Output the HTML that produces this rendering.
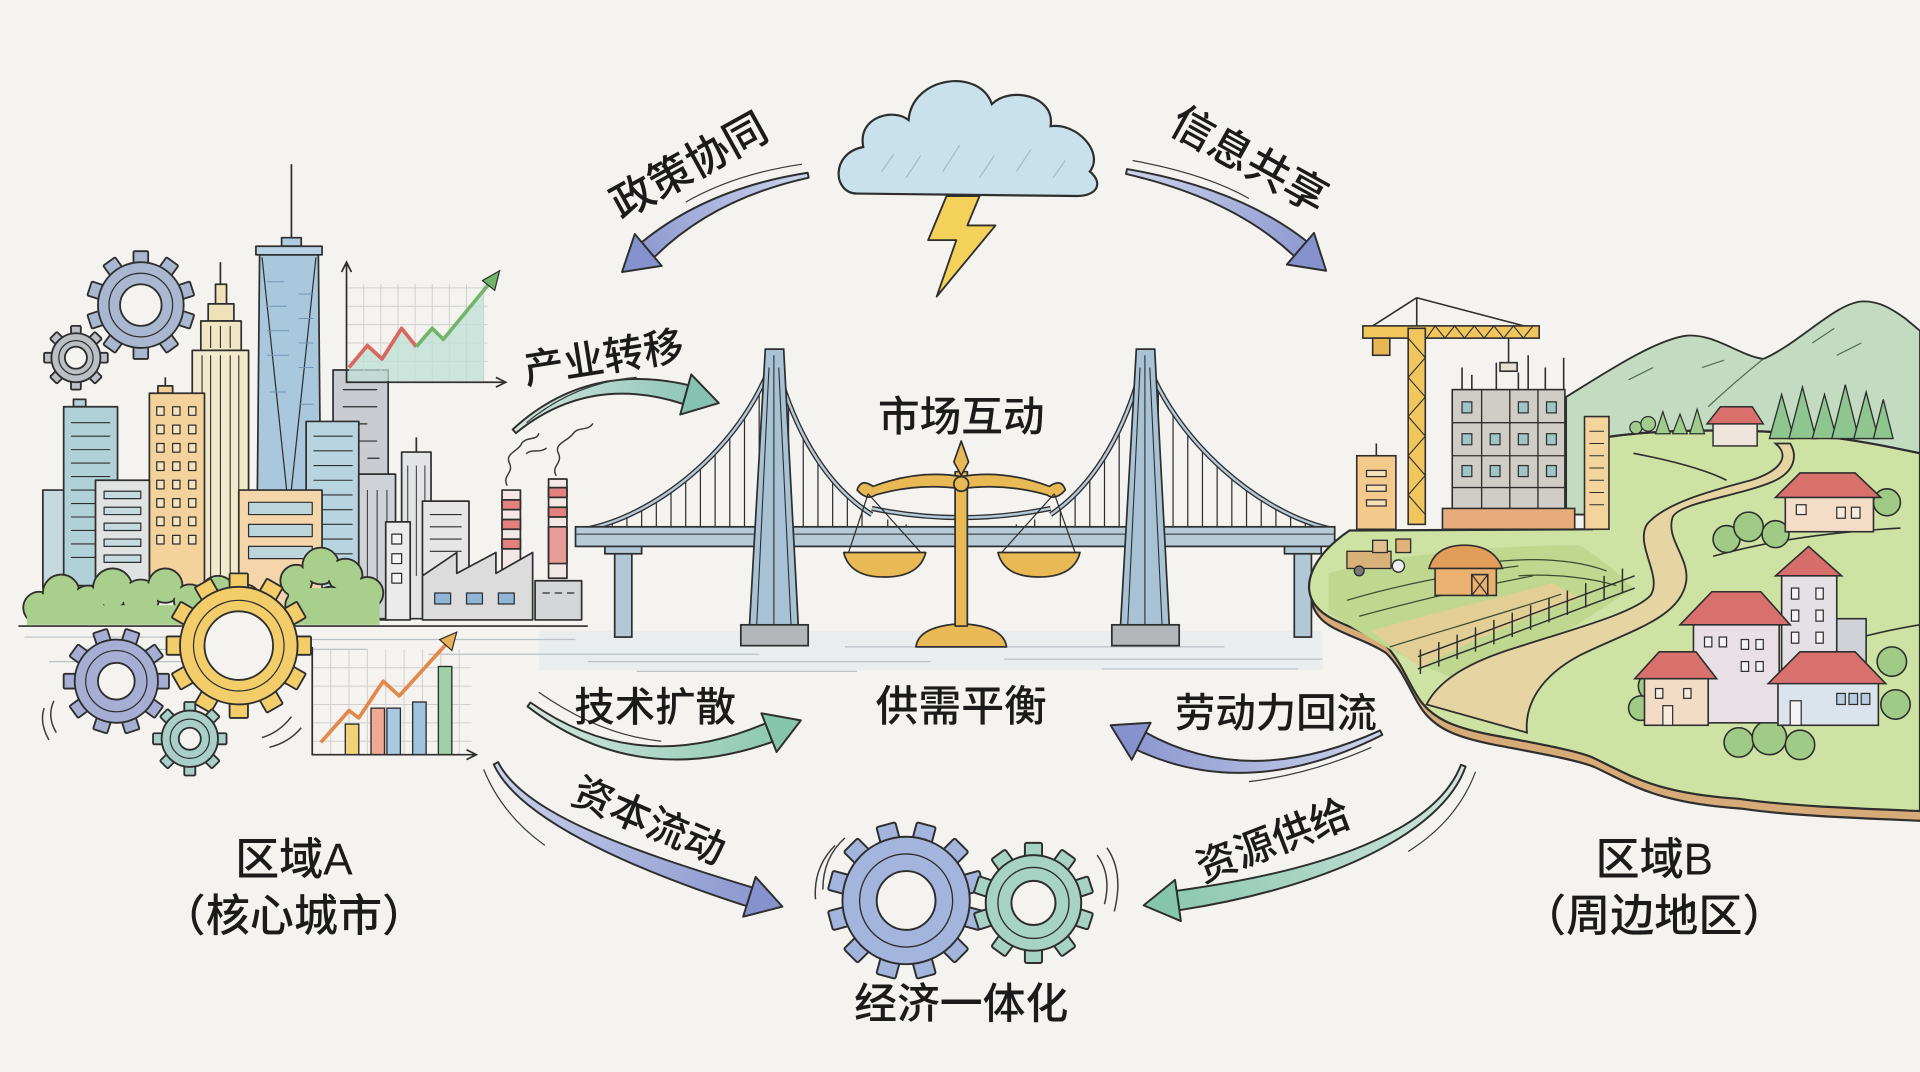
<!DOCTYPE html>
<html><head><meta charset="utf-8">
<style>
html,body{margin:0;padding:0;background:#f4f3ef;overflow:hidden;}
svg{display:block;}
text{font-family:"Liberation Sans","Noto Sans CJK SC",sans-serif;fill:#1b1b1b;font-weight:500;}
</style></head><body>
<svg width="1920" height="1072" viewBox="0 0 1568 875" preserveAspectRatio="none" xmlns="http://www.w3.org/2000/svg">
<defs>
<linearGradient id="gA1" gradientUnits="userSpaceOnUse" x1="660" y1="145" x2="510" y2="222"><stop offset="0" stop-color="#cdd3ec"/><stop offset="1" stop-color="#8592cd"/></linearGradient>
<linearGradient id="gA2" gradientUnits="userSpaceOnUse" x1="920" y1="140" x2="1082" y2="224"><stop offset="0" stop-color="#cdd3ec"/><stop offset="1" stop-color="#8592cd"/></linearGradient>
<linearGradient id="gA3" gradientUnits="userSpaceOnUse" x1="420" y1="352" x2="588" y2="330"><stop offset="0" stop-color="#d3e6e0"/><stop offset="1" stop-color="#86c2b0"/></linearGradient>
<linearGradient id="gA4" gradientUnits="userSpaceOnUse" x1="432" y1="575" x2="655" y2="588"><stop offset="0" stop-color="#d3e6e0"/><stop offset="1" stop-color="#86c6ae"/></linearGradient>
<linearGradient id="gA5" gradientUnits="userSpaceOnUse" x1="1128" y1="598" x2="907" y2="592"><stop offset="0" stop-color="#cdd3ec"/><stop offset="1" stop-color="#8592cd"/></linearGradient>
<linearGradient id="gA6" gradientUnits="userSpaceOnUse" x1="405" y1="623" x2="639" y2="740"><stop offset="0" stop-color="#cdd3ec"/><stop offset="1" stop-color="#8592cd"/></linearGradient>
<linearGradient id="gA7" gradientUnits="userSpaceOnUse" x1="1195" y1="625" x2="934" y2="739"><stop offset="0" stop-color="#d3e6e0"/><stop offset="1" stop-color="#86c6ae"/></linearGradient>
<clipPath id="c1"><path d="M478 432 C540 420 610 360 632 290 L632 432 Z"/></clipPath>
<clipPath id="c2"><path d="M632 290 C650 360 680 400 712 420 L712 432 L632 432 Z"/></clipPath>
<clipPath id="c3"><path d="M935 290 C918 360 888 400 858 420 L858 432 L935 432 Z"/></clipPath>
<clipPath id="c4"><path d="M935 290 C958 360 1030 420 1088 432 L935 432 Z"/></clipPath>
<rect id="t1" x="-6" y="-44" width="12" height="12" rx="1"/>
<rect id="t2" x="-4" y="-26" width="8" height="9" rx="1"/>
<rect id="t3" x="-7.5" y="-59" width="15" height="14" rx="1"/>
<rect id="t4" x="-6" y="-43" width="12" height="12" rx="1"/>
<rect id="t5" x="-4.5" y="-30" width="9" height="10" rx="1"/>
<rect id="t6" x="-8" y="-64" width="16" height="15" rx="1.5"/>
<rect id="t7" x="-7" y="-49" width="14" height="13" rx="1.5"/>
</defs>
<rect width="1568" height="875" fill="#f4f3ef"/>

<!-- water / ground sketch lines -->
<rect x="440" y="515" width="640" height="32" fill="#e3eaed" opacity="0.6"/>
<g stroke="#b9c2c8" stroke-width="1" fill="none">
<path d="M20 520 H180 M230 522 H470 M60 530 H300 M350 534 H620 M480 540 H760 M690 528 H1000 M820 538 H1080 M40 540 H160 M900 546 H1060 M520 548 H700"/>
</g>

<!-- ================= CITY ================= -->
<g stroke="#2e2e2e" stroke-width="1.4" stroke-linejoin="round">
<rect x="272" y="302" width="45" height="204" fill="#c9ccd1"/>
<path d="M280 318h28M280 332h28M280 346h20M280 360h28M300 374h10" fill="none" stroke-width="1"/>
<rect x="35" y="400" width="18" height="80" fill="#c6d9de"/>
<line x1="238" y1="134" x2="238" y2="197"/>
<rect x="230" y="194" width="16" height="7" fill="#aecbe0"/>
<polygon points="212,208 260,208 262,420 210,420" fill="#a9c7dd"/>
<rect x="209" y="201" width="54" height="7" fill="#b7d2e5"/>
<path d="M214 210 L236 418 L258 210" fill="none" stroke-width="1"/>
<path d="M218 230h14M218 250h16M218 270h18M218 290h18M244 240h12M244 260h12M244 280h12M244 300h12M220 320h14M244 330h12" stroke="#6f97b5" stroke-width="0.8" fill="none"/>
<line x1="180" y1="214" x2="180" y2="232"/>
<rect x="176" y="232" width="9" height="16" fill="#efe2b8"/>
<rect x="170" y="248" width="21" height="14" fill="#efe2b8"/>
<rect x="164" y="262" width="33" height="24" fill="#f1e6c4"/>
<rect x="157" y="286" width="46" height="192" fill="#f3e9cc"/>
<path d="M165 290V476M172 290V476M180 290V476M188 290V476M195 290V476M172 266V284M180 266V284M188 266V284" fill="none" stroke-width="0.9"/>
<rect x="60" y="326" width="10" height="6" fill="#b3d3d8"/>
<rect x="52" y="332" width="44" height="146" fill="#b1d1d9"/>
<path d="M58 345h32M58 356h32M58 367h32M58 378h32M58 389h32M58 400h32M58 411h32M58 422h32M58 433h32M58 444h32M58 455h32" fill="none" stroke-width="0.9"/>
<line x1="135" y1="308" x2="135" y2="316"/>
<rect x="129" y="315" width="12" height="6" fill="#f3cf97"/>
<rect x="122" y="321" width="45" height="157" fill="#f4d29c"/>
<g fill="#f7e3bf" stroke-width="1">
<rect x="128" y="332" width="6" height="7"/><rect x="141" y="332" width="6" height="7"/><rect x="154" y="332" width="6" height="7"/>
<rect x="128" y="347" width="6" height="7"/><rect x="141" y="347" width="6" height="7"/><rect x="154" y="347" width="6" height="7"/>
<rect x="128" y="362" width="6" height="7"/><rect x="141" y="362" width="6" height="7"/><rect x="154" y="362" width="6" height="7"/>
<rect x="128" y="377" width="6" height="7"/><rect x="141" y="377" width="6" height="7"/><rect x="154" y="377" width="6" height="7"/>
<rect x="128" y="392" width="6" height="7"/><rect x="141" y="392" width="6" height="7"/><rect x="154" y="392" width="6" height="7"/>
<rect x="128" y="407" width="6" height="7"/><rect x="141" y="407" width="6" height="7"/><rect x="154" y="407" width="6" height="7"/>
<rect x="128" y="422" width="6" height="7"/><rect x="141" y="422" width="6" height="7"/><rect x="154" y="422" width="6" height="7"/>
<rect x="128" y="437" width="6" height="7"/><rect x="141" y="437" width="6" height="7"/><rect x="154" y="437" width="6" height="7"/>
</g>
<rect x="78" y="392" width="44" height="86" fill="#e1e3e3"/>
<g fill="#c5dbe0" stroke-width="1">
<rect x="85" y="401" width="30" height="6"/><rect x="85" y="414" width="30" height="6"/><rect x="85" y="427" width="30" height="6"/><rect x="85" y="440" width="30" height="6"/><rect x="85" y="453" width="30" height="6"/>
</g>
<rect x="250" y="344" width="43" height="160" fill="#b9d4e1"/>
<path d="M256 356h32M256 368h32M256 380h32M256 392h32M256 404h32M256 416h32M256 428h32M256 440h32M256 452h32" fill="none" stroke-width="0.9"/>
<rect x="195" y="400" width="68" height="104" fill="#f4d6aa"/>
<g fill="#bcd6dc" stroke-width="1"><rect x="203" y="410" width="52" height="10"/><rect x="203" y="428" width="52" height="10"/><rect x="203" y="446" width="52" height="10"/></g>
<rect x="293" y="387" width="30" height="118" fill="#cfd2d6"/>
<path d="M300 400V495M308 400V495M316 400V495" fill="none" stroke-width="0.8"/>
<line x1="340" y1="357" x2="340" y2="369"/>
<rect x="328" y="369" width="24" height="136" fill="#e3e4e6"/>
<path d="M333 380V470M340 380V470M347 380V470" fill="none" stroke-width="0.8"/>
<rect x="315" y="426" width="20" height="80" fill="#ebebeb"/>
<g fill="#f4f4f4" stroke-width="1"><rect x="320" y="436" width="8" height="8"/><rect x="320" y="452" width="8" height="8"/><rect x="320" y="468" width="8" height="8"/></g>
<rect x="345" y="409" width="38" height="60" fill="#e6e6e6"/>
<path d="M351 420h26M351 430h26M351 440h26M351 450h26" fill="none" stroke-width="0.9"/>
<rect x="410" y="400" width="15" height="72" fill="#f3e8e6"/>
<rect x="410" y="408" width="15" height="8" fill="#e3817f"/><rect x="410" y="424" width="15" height="8" fill="#e3817f"/><rect x="410" y="440" width="15" height="8" fill="#e3817f"/>
<rect x="448" y="391" width="15" height="81" fill="#f3e8e6"/>
<rect x="448" y="398" width="15" height="8" fill="#e3817f"/><rect x="448" y="414" width="15" height="8" fill="#e3817f"/><rect x="448" y="430" width="15" height="30" fill="#e89b97"/>
<polygon points="345,506 345,470 373,451 373,468 405,451 405,468 435,451 435,506" fill="#dcdcdc"/>
<g fill="#8fb6d6" stroke-width="1"><rect x="355" y="484" width="13" height="9"/><rect x="381" y="484" width="13" height="9"/><rect x="407" y="484" width="13" height="9"/></g>
<rect x="437" y="474" width="38" height="32" fill="#d5d6d8"/>
<path d="M443 484h6M453 484h6M463 484h6" fill="none" stroke-width="1"/>
</g>
<g fill="none" stroke="#3a3a3a" stroke-width="1.2" stroke-linecap="round">
<path d="M414 396 C410 388 420 386 416 378 C412 370 424 368 426 362 C430 356 438 360 440 354"/>
<path d="M454 388 C450 380 460 378 456 370 C452 362 464 360 468 354 C472 348 480 352 484 346"/>
<path d="M430 370 C436 366 440 370 446 366"/>
</g>

<!-- trees left -->
<g fill="#a9cf8d" stroke="#2e2e2e" stroke-width="1.5">
<circle cx="32" cy="496" r="13"/><circle cx="50" cy="484" r="15"/><circle cx="72" cy="492" r="14"/><circle cx="92" cy="480" r="16"/><circle cx="115" cy="488" r="15"/><circle cx="135" cy="478" r="14"/><circle cx="155" cy="490" r="13"/><circle cx="178" cy="484" r="14"/><circle cx="200" cy="490" r="13"/>
<circle cx="242" cy="474" r="13"/><circle cx="262" cy="462" r="15"/><circle cx="282" cy="470" r="14"/><circle cx="300" cy="484" r="13"/><circle cx="270" cy="492" r="13"/><circle cx="245" cy="494" r="12"/>
</g>
<g fill="#a9cf8d">
<circle cx="32" cy="496" r="11.4"/><circle cx="50" cy="484" r="13.4"/><circle cx="72" cy="492" r="12.4"/><circle cx="92" cy="480" r="14.4"/><circle cx="115" cy="488" r="13.4"/><circle cx="135" cy="478" r="12.4"/><circle cx="155" cy="490" r="11.4"/><circle cx="178" cy="484" r="12.4"/><circle cx="200" cy="490" r="11.4"/>
<circle cx="242" cy="474" r="11.4"/><circle cx="262" cy="462" r="13.4"/><circle cx="282" cy="470" r="12.4"/><circle cx="300" cy="484" r="11.4"/><circle cx="270" cy="492" r="11.4"/><circle cx="245" cy="494" r="10.4"/>
<rect x="22" y="494" width="190" height="16"/><rect x="236" y="480" width="74" height="30"/>
</g>
<path d="M15 511 H480" stroke="#2e2e2e" stroke-width="1.4"/>

<!-- top chart -->
<g stroke="#cfcfcf" stroke-width="0.8">
<path d="M297 232V312M311 232V312M325 232V312M339 232V312M353 232V312M367 232V312M381 232V312M395 232V312M283 235H398M283 250H398M283 265H398M283 280H398M283 295H398"/>
</g>
<polygon fill="#bfe0d6" opacity="0.75" points="285,300 300,282 312,293 328,268 340,283 353,268 362,277 395,240 395,311 285,311"/>
<polyline points="285,300 300,282 312,293 328,268 340,283" stroke="#d9665f" stroke-width="3" fill="none" stroke-linejoin="round"/>
<polyline points="340,283 353,268 362,277 400,231" stroke="#72b56a" stroke-width="3" fill="none" stroke-linejoin="round"/>
<polygon points="408,221 394,229 404,237" fill="#72b56a" stroke="#2e2e2e" stroke-width="1"/>
<path d="M283 215 V312 H412 M279 222 L283 214 L287 222 M405 308 L413 312 L405 316" stroke="#2e2e2e" stroke-width="1.4" fill="none"/>

<!-- bottom chart -->
<g stroke="#cfcfcf" stroke-width="0.8">
<path d="M270 530V616M285 530V616M300 530V616M315 530V616M330 530V616M345 530V616M360 530V616M375 530V616M255 545H385M255 560H385M255 575H385M255 590H385M255 605H385"/>
</g>
<g stroke="#2e2e2e" stroke-width="1.1">
<rect x="282" y="591" width="11" height="25" fill="#efd27a"/>
<rect x="303" y="578" width="11" height="38" fill="#f0a993"/>
<rect x="316" y="578" width="11" height="38" fill="#a9c9e0"/>
<rect x="337" y="573" width="11" height="43" fill="#9fc2df"/>
<rect x="358" y="544" width="11" height="72" fill="#9ed2a6"/>
</g>
<polyline points="262,606 285,580 293,586 313,556 326,568 366,524" stroke="#e2894a" stroke-width="3" fill="none" stroke-linejoin="round"/>
<polygon points="373,516 359,522 369,531" fill="#e9b05a" stroke="#2e2e2e" stroke-width="1"/>
<path d="M255 528 V616 H388 M381 612 L389 616 L381 620" stroke="#2e2e2e" stroke-width="1.4" fill="none"/>

<!-- left gears -->
<g stroke="#2e2e2e" stroke-width="1.5">
<g transform="translate(115,249)" fill="#a9b8d0">
<use href="#t1"/><use href="#t1" transform="rotate(36)"/><use href="#t1" transform="rotate(72)"/><use href="#t1" transform="rotate(108)"/><use href="#t1" transform="rotate(144)"/><use href="#t1" transform="rotate(180)"/><use href="#t1" transform="rotate(216)"/><use href="#t1" transform="rotate(252)"/><use href="#t1" transform="rotate(288)"/><use href="#t1" transform="rotate(324)"/>
<circle r="35"/><circle r="26" fill="none" stroke-width="1"/><circle r="17" fill="#f4f3ef"/>
</g>
<g transform="translate(62,292)" fill="#bcbfc4">
<use href="#t2"/><use href="#t2" transform="rotate(45)"/><use href="#t2" transform="rotate(90)"/><use href="#t2" transform="rotate(135)"/><use href="#t2" transform="rotate(180)"/><use href="#t2" transform="rotate(225)"/><use href="#t2" transform="rotate(270)"/><use href="#t2" transform="rotate(315)"/>
<circle r="20"/><circle r="14" fill="none" stroke-width="1"/><circle r="9" fill="#f4f3ef"/>
</g>
<g transform="translate(95,556)" fill="#a6aed4">
<use href="#t4" transform="rotate(18)"/><use href="#t4" transform="rotate(54)"/><use href="#t4" transform="rotate(90)"/><use href="#t4" transform="rotate(126)"/><use href="#t4" transform="rotate(162)"/><use href="#t4" transform="rotate(198)"/><use href="#t4" transform="rotate(234)"/><use href="#t4" transform="rotate(270)"/><use href="#t4" transform="rotate(306)"/><use href="#t4" transform="rotate(342)"/>
<circle r="34"/><circle r="25" fill="none" stroke-width="1"/><circle r="15" fill="#f4f3ef"/>
</g>
<g transform="translate(195,527)" fill="#f2cd6a">
<use href="#t3"/><use href="#t3" transform="rotate(30)"/><use href="#t3" transform="rotate(60)"/><use href="#t3" transform="rotate(90)"/><use href="#t3" transform="rotate(120)"/><use href="#t3" transform="rotate(150)"/><use href="#t3" transform="rotate(180)"/><use href="#t3" transform="rotate(210)"/><use href="#t3" transform="rotate(240)"/><use href="#t3" transform="rotate(270)"/><use href="#t3" transform="rotate(300)"/><use href="#t3" transform="rotate(330)"/>
<circle r="48"/><circle r="37" fill="none" stroke-width="1"/><circle r="28" fill="#f4f3ef"/>
</g>
<g transform="translate(155,603)" fill="#a9d0c8">
<use href="#t5"/><use href="#t5" transform="rotate(45)"/><use href="#t5" transform="rotate(90)"/><use href="#t5" transform="rotate(135)"/><use href="#t5" transform="rotate(180)"/><use href="#t5" transform="rotate(225)"/><use href="#t5" transform="rotate(270)"/><use href="#t5" transform="rotate(315)"/>
<circle r="23"/><circle r="16" fill="none" stroke-width="1"/><circle r="9" fill="#f4f3ef"/>
</g>
</g>
<g fill="none" stroke="#3a3a3a" stroke-width="1.2">
<path d="M44 572 Q38 585 46 598 M36 578 Q32 590 40 604 M238 585 Q228 598 214 602 M246 594 Q236 606 220 610"/>
</g>

<!-- ================= BRIDGE ================= -->
<g stroke="#2e2e2e" stroke-width="1.4">
<g stroke-width="1">
<g clip-path="url(#c1)"><path d="M488 280V432M500 280V432M512 280V432M524 280V432M536 280V432M548 280V432M560 280V432M572 280V432M584 280V432M596 280V432M608 280V432M620 280V432"/></g>
<g clip-path="url(#c2)"><path d="M644 280V432M656 280V432M668 280V432M680 280V432M692 280V432M704 280V432"/></g>
<g clip-path="url(#c3)"><path d="M866 280V432M878 280V432M890 280V432M902 280V432M914 280V432M926 280V432"/></g>
<g clip-path="url(#c4)"><path d="M946 280V432M958 280V432M970 280V432M982 280V432M994 280V432M1006 280V432M1018 280V432M1030 280V432M1042 280V432M1054 280V432M1066 280V432M1078 280V432"/></g>
<path d="M725 424V431M740 428V431M830 428V431M845 424V431"/>
</g>
<g fill="none" stroke="#2e2e2e" stroke-width="4.2"><path d="M632 290 C610 360 540 420 478 432"/><path d="M632 290 C650 360 680 400 712 420"/><path d="M935 290 C918 360 888 400 858 420"/><path d="M935 290 C958 360 1030 420 1088 432"/><path d="M712 415 Q785 430 858 415"/></g>
<g fill="none" stroke="#b5cad8" stroke-width="2"><path d="M632 290 C610 360 540 420 478 432"/><path d="M632 290 C650 360 680 400 712 420"/><path d="M935 290 C918 360 888 400 858 420"/><path d="M935 290 C958 360 1030 420 1088 432"/><path d="M712 415 Q785 430 858 415"/></g>
<rect x="502" y="446" width="14" height="74" fill="#b3c8d6"/>
<rect x="494" y="444" width="30" height="8" fill="#b3c8d6"/>
<rect x="1057" y="446" width="14" height="74" fill="#b3c8d6"/>
<rect x="1049" y="444" width="30" height="8" fill="#b3c8d6"/>
<rect x="470" y="430" width="620" height="16" fill="#b6cad7"/>
<line x1="470" y1="436" x2="1090" y2="436" stroke-width="0.8"/>
<polygon points="625,285 640,285 652,512 612,512" fill="#a9c3d6"/>
<path d="M632 290 V510 M628 300 L618 510 M636 300 L646 510" fill="none" stroke-width="0.9"/>
<rect x="605" y="510" width="55" height="17" fill="#b4b7ba"/>
<polygon points="928,285 943,285 955,512 915,512" fill="#a9c3d6"/>
<path d="M935 290 V510 M931 300 L921 510 M939 300 L949 510" fill="none" stroke-width="0.9"/>
<rect x="908" y="510" width="55" height="17" fill="#b4b7ba"/>
</g>
<g stroke="#2e2e2e" stroke-width="1.4" fill="#e8b955" stroke-linejoin="round">
<path d="M748 528 Q750 511 785 509 Q820 511 822 528 Z"/>
<rect x="780" y="385" width="10" height="126"/>
<path d="M785 360 L791 377 L785 388 L779 377 Z"/>
<path d="M700 400 Q703 390 713 397 Q750 383 785 389 Q820 383 857 397 Q867 390 870 400 Q862 409 855 404 Q820 394 785 399 Q750 394 715 404 Q708 409 700 400 Z"/>
<circle cx="785" cy="395" r="6"/>
<path d="M709 403 L693 451 M709 403 L752 451 M861 403 L818 451 M861 403 L878 451" fill="none" stroke-width="1"/>
<path d="M689 451 H756 Q751 471 722 471 Q694 471 689 451 Z"/>
<path d="M815 451 H882 Q877 471 848 471 Q820 471 815 451 Z"/>
</g>

<!-- ================= COUNTRYSIDE ================= -->
<path d="M1279 324 C1310 305 1350 278 1377 274 C1400 272 1420 290 1440 293 C1470 280 1500 246 1522 246 C1535 246 1545 252 1556 260 L1568 270 L1568 420 L1279 420 Z" fill="#c3dcc1" stroke="#2e2e2e" stroke-width="1.5"/>
<path d="M1440 293 C1425 305 1410 318 1395 332 M1330 310 L1350 300 M1480 280 L1498 268 M1500 290 L1520 280 M1390 300 l18 -6" stroke="#4e6e55" stroke-width="1" fill="none"/>
<g transform="translate(2,8)">
<path d="M1102 433 L1300 432 L1305 358 C1350 350 1420 350 1470 354 C1510 358 1540 364 1568 370 L1568 662 C1520 660 1460 658 1420 652 C1390 650 1370 646 1356 642 C1335 636 1325 630 1300 618 C1285 612 1250 606 1214 599 C1190 594 1172 588 1160 572 C1150 558 1145 540 1130 525 C1110 512 1085 508 1075 495 C1062 480 1070 455 1102 433 Z" fill="#d7ab78" stroke="#2e2e2e" stroke-width="1.8"/>
</g>
<path d="M1102 433 L1300 432 L1305 358 C1350 350 1420 350 1470 354 C1510 358 1540 364 1568 370 L1568 662 C1520 660 1460 658 1420 652 C1390 650 1370 646 1356 642 C1335 636 1325 630 1300 618 C1285 612 1250 606 1214 599 C1190 594 1172 588 1160 572 C1150 558 1145 540 1130 525 C1110 512 1085 508 1075 495 C1062 480 1070 455 1102 433 Z" fill="#cde2a3" stroke="#2e2e2e" stroke-width="1.8"/>
<path d="M1305 358 C1350 350 1420 350 1470 354 C1510 358 1540 364 1568 370" stroke="#2e2e2e" stroke-width="1.6" fill="none"/>
<path d="M1334 370 C1360 375 1390 382 1410 392 M1399 454 C1450 440 1500 434 1552 431 M1520 520 C1540 515 1555 512 1568 510" stroke="#2e2e2e" stroke-width="1.3" fill="none"/>
<!-- small trees on hill -->
<g fill="#9fcb8d" stroke="#2e2e2e" stroke-width="1">
<circle cx="1336" cy="349" r="5"/><circle cx="1346" cy="346" r="6"/><polygon points="1358,336 1352,354 1364,354"/><polygon points="1372,338 1366,354 1378,354"/><polygon points="1386,334 1380,354 1392,354"/>
</g>
<g fill="#8fc58f" stroke="#2e2e2e" stroke-width="1.1">
<polygon points="1455,322 1445,358 1465,358"/><polygon points="1472,316 1461,358 1483,358"/><polygon points="1490,322 1480,358 1500,358"/><polygon points="1507,314 1496,358 1518,358"/><polygon points="1524,320 1514,358 1534,358"/><polygon points="1538,326 1530,358 1546,358"/>
</g>
<g stroke="#2e2e2e" stroke-width="1.2">
<rect x="1399" y="344" width="36" height="20" fill="#eee6dc"/>
<polygon points="1394,346 1405,332 1431,332 1440,346" fill="#d9706c"/>
</g>
<!-- field -->
<path d="M1085 468 C1140 452 1220 445 1290 445 C1310 458 1322 468 1334 480 L1210 560 C1160 548 1118 520 1085 500 Z" fill="#bfd78f"/>
<path d="M1120 515 C1170 500 1225 488 1268 476 L1290 488 C1245 505 1195 525 1160 545 Z" fill="#e3cf95"/>
<g stroke="#3c4a30" stroke-width="1" fill="none">
<path d="M1100 490 C1140 478 1190 468 1240 462 M1110 503 C1150 492 1200 480 1252 470 M1135 528 C1180 514 1230 500 1275 485 M1225 458 C1260 455 1290 458 1312 466 M1240 470 C1270 468 1300 472 1320 478"/>
</g>
<!-- road -->
<path d="M1450 362 C1462 372 1455 384 1430 392 C1400 400 1360 410 1345 428 C1335 445 1358 470 1348 486 C1335 500 1290 512 1240 528 C1200 540 1175 555 1165 575 L1247 598 C1245 575 1258 552 1290 535 C1330 515 1372 505 1377 475 C1380 455 1360 440 1366 422 C1372 410 1420 405 1448 393 C1466 385 1468 372 1462 362 Z" fill="#e6d4a2" stroke="#2e2e2e" stroke-width="1.5"/>
<!-- fence -->
<g stroke="#2e2e2e" stroke-width="1.2">
<path d="M1158 546 L1335 480 M1158 536 L1335 470" fill="none"/>
<path d="M1160 550V530M1175 544V524M1190 538V518M1205 532V512M1220 526V506M1235 520V500M1250 514V494M1265 508V488M1280 502V482M1295 496V476M1310 490V470M1325 484V464"/>
</g>
<!-- barn -->
<g stroke="#2e2e2e" stroke-width="1.3">
<rect x="1172" y="462" width="50" height="24" fill="#eab170"/>
<path d="M1167 464 Q1172 445 1196 445 Q1220 445 1227 464 Z" fill="#e39d5b"/>
<rect x="1202" y="469" width="13" height="17" fill="#eab170"/>
<path d="M1202 469 L1215 486 M1215 469 L1202 486" fill="none" stroke-width="1"/>
</g>
<g stroke="#2e2e2e" stroke-width="1.1">
<rect x="1100" y="450" width="36" height="14" fill="#d9b27a"/>
<rect x="1121" y="441" width="12" height="10" fill="#e2c08e"/>
<rect x="1140" y="440" width="12" height="11" fill="#e2b27a"/>
<circle cx="1110" cy="466" r="4" fill="#777"/><circle cx="1142" cy="462" r="5" fill="#eee"/>
</g>
<!-- crane -->
<g stroke="#2e2e2e" stroke-width="1.3">
<path d="M1157 243 L1118 268 M1157 243 L1252 268 M1157 243 V266" fill="none"/>
<rect x="1113" y="266" width="144" height="10" fill="#f1c75d"/>
<path d="M1165 276 L1172 266 L1180 276 L1188 266 L1196 276 L1204 266 L1212 276 L1220 266 L1228 276 L1236 266 L1244 276 L1252 266" fill="none" stroke-width="0.9"/>
<rect x="1150" y="268" width="14" height="160" fill="#f1c75d"/>
<path d="M1150 276 L1164 292 L1150 308 L1164 324 L1150 340 L1164 356 L1150 372 L1164 388 L1150 404 L1164 420" fill="none" stroke-width="0.9"/>
<rect x="1121" y="276" width="14" height="14" fill="#e7b553"/>
<path d="M1232 276 V296" fill="none"/>
<rect x="1225" y="296" width="14" height="7" fill="#e6e0d2"/>
</g>
<g stroke="#2e2e2e" stroke-width="1.3">
<path d="M1194 318V300M1202 318V306M1222 318V296M1240 318V304M1248 318V290M1262 318V300M1277 318V292" fill="none"/>
<rect x="1186" y="318" width="92" height="100" fill="#cfcdc6"/>
<path d="M1210 318V418M1233 318V418M1256 318V418M1186 345H1278M1186 372H1278M1186 398H1278" fill="none" stroke-width="1.1"/>
<g fill="#9fc5c6" stroke-width="1">
<rect x="1194" y="328" width="8" height="9"/><rect x="1240" y="328" width="8" height="9"/><rect x="1263" y="328" width="8" height="9"/>
<rect x="1194" y="354" width="8" height="9"/><rect x="1217" y="354" width="8" height="9"/><rect x="1240" y="354" width="8" height="9"/><rect x="1263" y="354" width="8" height="9"/>
<rect x="1194" y="380" width="8" height="9"/><rect x="1217" y="380" width="8" height="9"/><rect x="1240" y="380" width="8" height="9"/><rect x="1263" y="380" width="8" height="9"/>
</g>
<rect x="1178" y="415" width="108" height="17" fill="#e8ab7b"/>
<rect x="1108" y="372" width="32" height="60" fill="#f3c98c"/>
<path d="M1124 372V362" fill="none"/>
<g fill="#f7dfb6" stroke-width="1"><rect x="1116" y="384" width="16" height="5"/><rect x="1116" y="396" width="16" height="5"/><rect x="1116" y="408" width="16" height="5"/></g>
<rect x="1294" y="340" width="20" height="92" fill="#f3d49c"/>
<path d="M1298 352h12M1298 362h12M1298 372h12M1298 382h12M1298 392h12M1298 402h12M1298 412h12" fill="none" stroke-width="0.9"/>
</g>
<!-- bushes right -->
<g fill="#9fcb86" stroke="#2e2e2e" stroke-width="1.3">
<circle cx="1410" cy="440" r="11"/><circle cx="1428" cy="430" r="12"/><circle cx="1450" cy="436" r="11"/><circle cx="1541" cy="410" r="11"/><circle cx="1350" cy="560" r="12"/><circle cx="1340" cy="578" r="10"/><circle cx="1420" cy="606" r="12"/><circle cx="1445" cy="602" r="14"/><circle cx="1470" cy="608" r="12"/><circle cx="1545" cy="540" r="12"/><circle cx="1548" cy="575" r="12"/>
</g>
<g stroke="#2e2e2e" stroke-width="1.3">
<rect x="1458" y="404" width="72" height="30" fill="#f4dcc6"/>
<polygon points="1450,406 1470,386 1515,386 1536,406" fill="#d8706c"/>
<g fill="#f7ecde" stroke-width="1"><rect x="1467" y="412" width="8" height="8"/><rect x="1500" y="414" width="7" height="9"/><rect x="1512" y="414" width="7" height="9"/></g>
<rect x="1498" y="505" width="26" height="60" fill="#cfd3d8"/>
<rect x="1455" y="468" width="45" height="95" fill="#e4e1e6"/>
<polygon points="1450,470 1477,446 1504,470" fill="#d66f6c"/>
<g fill="#f4f2f4" stroke-width="1"><rect x="1463" y="480" width="6" height="9"/><rect x="1483" y="480" width="6" height="9"/><rect x="1463" y="498" width="6" height="9"/><rect x="1483" y="498" width="6" height="9"/><rect x="1463" y="516" width="6" height="9"/><rect x="1483" y="516" width="6" height="9"/></g>
<rect x="1383" y="505" width="70" height="85" fill="#e8e0e4"/>
<polygon points="1372,510 1398,483 1438,483 1462,510" fill="#d8716e"/>
<g fill="#f4f2f4" stroke-width="1"><rect x="1392" y="520" width="6" height="8"/><rect x="1404" y="520" width="6" height="8"/><rect x="1422" y="522" width="6" height="8"/><rect x="1434" y="522" width="6" height="8"/><rect x="1422" y="540" width="6" height="8"/><rect x="1434" y="540" width="6" height="8"/></g>
<rect x="1343" y="552" width="52" height="40" fill="#f3dcc5"/>
<polygon points="1335,554 1355,532 1385,532 1402,554" fill="#d8706c"/>
<g fill="#f7ecde" stroke-width="1"><rect x="1352" y="562" width="6" height="8"/><rect x="1375" y="562" width="6" height="8"/><rect x="1358" y="576" width="8" height="16"/></g>
<rect x="1452" y="556" width="82" height="36" fill="#dbe3ec"/>
<polygon points="1444,558 1470,532 1515,532 1540,558" fill="#d8716e"/>
<g fill="#b6cde2" stroke-width="1"><rect x="1500" y="566" width="7" height="9"/><rect x="1510" y="566" width="7" height="9"/><rect x="1520" y="566" width="7" height="9"/><rect x="1462" y="572" width="9" height="20" fill="#f4f2f4"/></g>
</g>

<!-- ================= CLOUD ================= -->
<path d="M700 158 C680 158 678 125 705 120 C700 95 730 88 742 98 C745 62 800 55 810 85 C825 70 862 78 858 103 C880 100 902 125 890 140 C902 150 895 160 880 160 Z" fill="#c9e1ec" stroke="#2e2e2e" stroke-width="1.8"/>
<path d="M720 140 l10 -14 M740 145 l12 -18 M770 140 l14 -22 M800 145 l12 -18 M830 140 l12 -18 M860 145 l10 -14" stroke="#9dbdcc" stroke-width="1" fill="none"/>
<polygon points="773,160 800,160 790,184 813,184 765,242 781,196 758,196" fill="#f3d15a" stroke="#2e2e2e" stroke-width="1.5" stroke-linejoin="round"/>

<!-- ================= ARROWS (tapered) ================= -->
<g stroke="#2e2e2e" stroke-width="1.6" stroke-linejoin="round">
<path d="M659.6 141 Q577.8 153.7 523.6 198.1 L534.4 209.9 Q582.2 162.3 660.4 145 Z" fill="url(#gA1)"/>
<path d="M919.6 142 Q1007.9 162.4 1056.8 209 L1067.2 197 Q1012.1 153.6 920.4 138 Z" fill="url(#gA2)"/>
<path d="M421.3 353.5 Q481 304.9 557.9 329.7 L562.1 314.3 Q479 295.1 418.7 350.5 Z" fill="url(#gA3)"/>
<path d="M430.8 576.6 Q519.4 645 630.9 605.5 L625.1 590.5 Q520.6 635 433.2 573.4 Z" fill="url(#gA4)"/>
<path d="M1127.1 596.2 Q1020 645 935.6 597.9 L928.4 612.1 Q1020 655 1128.9 599.8 Z" fill="url(#gA5)"/>
<path d="M403.2 623.9 C422.3 666.3 507.9 706.7 609.6 739.6 L614.4 724.4 C512.1 693.3 427.7 663.7 406.8 622.1 Z" fill="url(#gA6)"/>
<path d="M1193.1 624.3 C1172.2 679 1079 711.1 960.9 727.1 L963.1 742.9 C1081 724.9 1177.8 681 1196.9 625.7 Z" fill="url(#gA7)"/>
<polygon points="508,222 540.4,217 518.4,191" fill="#8592cd"/>
<polygon points="1083,221 1050.9,215.9 1073.1,190.1" fill="#8592cd"/>
<polygon points="587,329 555.5,338.4 564.5,305.6" fill="#86c2b0"/>
<polygon points="654,588 634.2,613.8 621.8,582.2" fill="#86c6ae"/>
<polygon points="907,592 939.7,589.9 924.3,620.1" fill="#8592cd"/>
<polygon points="639,740 606.9,748.2 617.1,715.8" fill="#8592cd"/>
<polygon points="934,739 959.6,718.2 964.4,751.8" fill="#86c6ae"/>
</g>
<g fill="none" stroke="#3a3a3a" stroke-width="1">
<path d="M655 134 Q600 142 560 165"/>
<path d="M925 131 Q985 142 1020 162"/>
<path d="M430 345 Q470 312 520 308"/>
<path d="M440 565 Q490 600 540 605"/>
<path d="M1120 610 Q1070 632 1020 638"/>
<path d="M395 628 Q410 665 445 690"/>
<path d="M1205 630 Q1190 670 1150 695"/>
</g>

<!-- ================= BOTTOM GEARS ================= -->
<g stroke="#2e2e2e" stroke-width="1.6">
<g transform="translate(740,735)" fill="#a3b5dc">
<use href="#t6" transform="rotate(15)"/><use href="#t6" transform="rotate(45)"/><use href="#t6" transform="rotate(75)"/><use href="#t6" transform="rotate(105)"/><use href="#t6" transform="rotate(135)"/><use href="#t6" transform="rotate(165)"/><use href="#t6" transform="rotate(195)"/><use href="#t6" transform="rotate(225)"/><use href="#t6" transform="rotate(255)"/><use href="#t6" transform="rotate(285)"/><use href="#t6" transform="rotate(315)"/><use href="#t6" transform="rotate(345)"/>
<circle r="52"/><circle r="38" fill="none" stroke-width="1.1"/><circle r="24" fill="#f4f3ef"/>
</g>
<g transform="translate(844,737)" fill="#a7d3c4">
<use href="#t7"/><use href="#t7" transform="rotate(36)"/><use href="#t7" transform="rotate(72)"/><use href="#t7" transform="rotate(108)"/><use href="#t7" transform="rotate(144)"/><use href="#t7" transform="rotate(180)"/><use href="#t7" transform="rotate(216)"/><use href="#t7" transform="rotate(252)"/><use href="#t7" transform="rotate(288)"/><use href="#t7" transform="rotate(324)"/>
<circle r="39"/><circle r="29" fill="none" stroke-width="1.1"/><circle r="18" fill="#f4f3ef"/>
</g>
</g>
<g fill="none" stroke="#3a3a3a" stroke-width="1.2">
<path d="M690 684 Q672 700 672 726 M682 690 Q664 708 666 734 M896 698 Q908 714 902 738 M904 692 Q918 712 910 744"/>
</g>

<!-- ================= TEXT ================= -->
<g font-size="35" text-anchor="middle" dominant-baseline="central">
<text x="563" y="136" transform="rotate(-29 563 136)">政策协同</text>
<text x="1020" y="131" transform="rotate(29 1020 131)">信息共享</text>
<text x="493" y="292" transform="rotate(-9 493 292)" font-size="33">产业转移</text>
<text x="785" y="340" font-size="34">市场互动</text>
<text x="535" y="577" font-size="33">技术扩散</text>
<text x="785" y="577">供需平衡</text>
<text x="1042" y="582" font-size="33">劳动力回流</text>
<text x="530" y="670" transform="rotate(23 530 670)" font-size="33">资本流动</text>
<text x="1040" y="686" transform="rotate(-21 1040 686)" font-size="33">资源供给</text>
<text x="785" y="820">经济一体化</text>
<text x="240" y="702" font-size="36">区域A</text>
<text x="240" y="748" font-size="36">（核心城市）</text>
<text x="1351" y="702" font-size="36">区域B</text>
<text x="1351" y="748" font-size="36">（周边地区）</text>
</g>
</svg>
</body></html>
